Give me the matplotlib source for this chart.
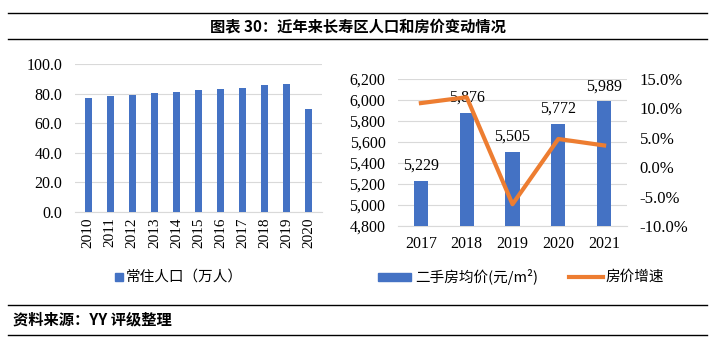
import matplotlib
matplotlib.use("Agg")
import matplotlib.pyplot as plt
from matplotlib.lines import Line2D
from matplotlib.patches import Rectangle
import numpy as np

plt.rcParams['font.family'] = ['Liberation Serif', 'Noto Sans CJK SC', 'DejaVu Sans']

# Left chart data
pop_years = ['2010', '2011', '2012', '2013', '2014', '2015', '2016', '2017', '2018', '2019', '2020']
population = [77.3, 78.4, 79.1, 80.4, 81.1, 82.7, 82.9, 83.8, 86.0, 86.5, 69.4]

# Right chart data
price_years = ['2017', '2018', '2019', '2020', '2021']
prices = [5229, 5876, 5505, 5772, 5989]
growth = [10.9, 11.9, -6.3, 4.8, 3.7]

title = '图表 30：近年来长寿区人口和房价变动情况'
source = '资料来源：YY 评级整理'
pop_label = '常住人口（万人）'
price_label = '二手房均价(元/m²)'
growth_label = '房价增速'

BLUE = '#4472C4'
ORANGE = '#ED7D31'
GRID = '#D9D9D9'
W, H = 715, 340
CJK = ['Noto Sans CJK SC', 'Liberation Serif', 'DejaVu Sans']

fig = plt.figure(figsize=(W / 100, H / 100), dpi=100)

def fx(x):
    return x / W

def fy(y):
    return 1 - y / H

# Header / footer lines
for y in (13, 39, 305, 335):
    fig.add_artist(Line2D([fx(8), fx(707)], [fy(y), fy(y)], color='black', lw=1.0))
fig.text(0.5, fy(26), title, ha='center', va='center', fontsize=11, fontweight='bold', family=CJK)
fig.text(fx(13), fy(319), source, ha='left', va='center', fontsize=11, fontweight='bold', family=CJK)

TICK_FS = 11.5

# Left chart
ax1 = fig.add_axes([fx(75), fy(212), fx(322 - 75), (212 - 64) / H])
x1 = np.arange(len(pop_years))
ax1.bar(x1, population, width=0.32, color=BLUE, zorder=3)
ax1.set_ylim(0, 100)
ax1.set_yticks(np.arange(0, 101, 20))
ax1.set_yticklabels([f'{v:.1f}' for v in np.arange(0, 101, 20)], fontsize=TICK_FS)
ax1.set_xticks(x1)
ax1.set_xticklabels(pop_years, rotation=90, fontsize=TICK_FS - 0.5)
ax1.set_xlim(-0.6, len(pop_years) - 0.4)
ax1.grid(axis='y', color=GRID, lw=0.8, zorder=0)
for s in ('top', 'right', 'left'):
    ax1.spines[s].set_visible(False)
ax1.spines['bottom'].set_color(GRID)
ax1.tick_params(axis='y', length=0, pad=9)
ax1.tick_params(axis='x', length=0, pad=4)

# Right chart
ax2 = fig.add_axes([fx(398), fy(226), fx(627 - 398), (226 - 79) / H])
x2 = np.arange(len(price_years))
ax2.bar(x2, prices, width=0.31, color=BLUE, zorder=3)
ax2.set_ylim(4800, 6200)
ax2.set_yticks(np.arange(4800, 6201, 200))
ax2.set_yticklabels([f'{v:,}' for v in np.arange(4800, 6201, 200)], fontsize=TICK_FS)
ax2.set_xticks(x2)
ax2.set_xticklabels(price_years, fontsize=TICK_FS)
ax2.set_xlim(-0.5, len(price_years) - 0.5)
ax2.grid(axis='y', color=GRID, lw=0.8, zorder=0)
for s in ('top', 'right', 'left'):
    ax2.spines[s].set_visible(False)
ax2.spines['bottom'].set_color(GRID)
ax2.tick_params(axis='y', length=0, pad=9)
ax2.tick_params(axis='x', length=0, pad=7)
for xi, v in zip(x2, prices):
    ax2.annotate(f'{v:,}', (xi, v), xytext=(0, 5), textcoords='offset points',
                 ha='center', va='bottom', fontsize=TICK_FS, zorder=5)

ax3 = ax2.twinx()
ax3.plot(x2, growth, color=ORANGE, lw=3, zorder=4)
ax3.set_ylim(-10, 15)
ax3.set_yticks(np.arange(-10, 16, 5))
ax3.set_yticklabels([f'{v:.1f}%' for v in np.arange(-10, 16, 5)], fontsize=TICK_FS + 0.5)
for s in ('top', 'right', 'left', 'bottom'):
    ax3.spines[s].set_visible(False)
ax3.tick_params(length=0, pad=9)

# Legends
LEG_FS = 10.5
LY = 277
fig.add_artist(Rectangle((fx(115), fy(281)), fx(8), 8 / H, color=BLUE, transform=fig.transFigure))
fig.text(fx(126), fy(LY), pop_label, ha='left', va='center', fontsize=LEG_FS, family=CJK)
fig.add_artist(Rectangle((fx(378), fy(281)), fx(33), 8 / H, color=BLUE, transform=fig.transFigure))
fig.text(fx(415), fy(LY), price_label, ha='left', va='center', fontsize=LEG_FS, family=CJK)
fig.add_artist(Line2D([fx(569), fx(603)], [fy(LY), fy(LY)], color=ORANGE, lw=3))
fig.text(fx(605), fy(LY), growth_label, ha='left', va='center', fontsize=LEG_FS, family=CJK)

fig.savefig('out.png', dpi=100)
